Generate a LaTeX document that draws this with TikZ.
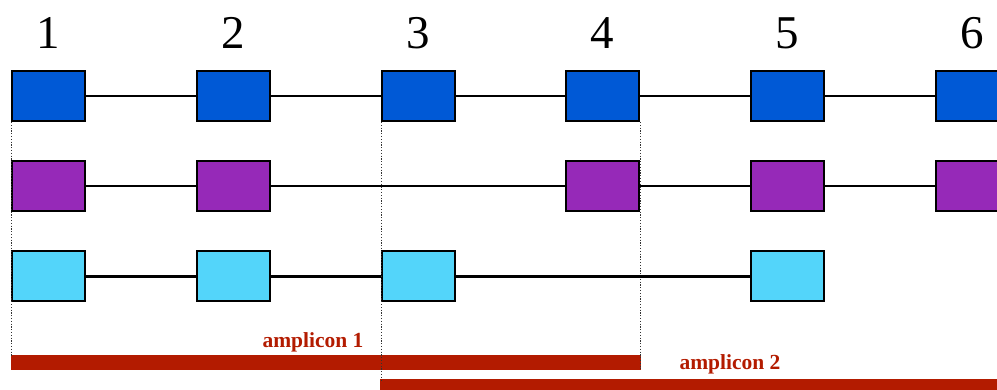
\documentclass[tikz,border=0pt]{standalone}
\usepackage{fontspec}
\setmainfont{Liberation Serif}
\definecolor{cblue}{HTML}{0059D6}
\definecolor{cpurple}{HTML}{9629B8}
\definecolor{ccyan}{HTML}{53D5FA}
\definecolor{cred}{HTML}{B31B00}
\begin{document}
\begin{tikzpicture}[x=1pt,y=-1pt,
  exon/.style={draw=black,line width=2pt,minimum width=73pt,minimum height=50pt,inner sep=0pt},
  link/.style={draw=black,line width=2.8pt},
  guide/.style={draw=black!80,line width=1pt,dash pattern=on 1.2pt off 1.6pt},
  bar/.style={fill=cred,draw=none},
  num/.style={font=\fontsize{47}{47}\selectfont,anchor=base,inner sep=0pt},
  amp/.style={font=\fontsize{21.5}{21.5}\selectfont\bfseries,text=cred,anchor=base,inner sep=0pt}]
\useasboundingbox (0,0) rectangle (997,390);
\clip (0,0) rectangle (997,390);
% numbers
\foreach \i/\x in {1/48.5,2/233.5,3/418.5,4/602.5,5/787.5,6/972.5}
  \node[num] (n\i) at (\x,49) {\i};
% guide end points
\coordinate (g1) at (11,356);
\coordinate (g3) at (381,380);
\coordinate (g4) at (640,369);
% bars
\coordinate (b1s) at (11,355);
\coordinate (b1e) at (641,370);
\coordinate (b2s) at (380,379);
\coordinate (b2e) at (1000,395);
\fill[bar] (b1s) rectangle (b1e);
\fill[bar] (b2s) rectangle (b2e);
% row 1
\foreach \i/\x in {1/48.5,2/233.5,3/418.5,4/602.5,5/787.5,6/972.5}
  \node[exon,fill=cblue] (a\i) at (\x,96) {};
% row 2
\foreach \i/\x in {1/48.5,2/233.5,4/602.5,5/787.5,6/972.5}
  \node[exon,fill=cpurple] (p\i) at (\x,186) {};
% row 3
\foreach \i/\x in {1/48.5,2/233.5,3/418.5,5/787.5}
  \node[exon,fill=ccyan] (c\i) at (\x,276.5) {};
% guides
\draw[guide] (a1.south west) -- (g1);
\draw[guide] (a3.south west) -- (g3);
\draw[guide] (a4.south east) -- (g4);
% links
\draw[link] (a1) -- (a2);
\draw[link] (a2) -- (a3);
\draw[link] (a3) -- (a4);
\draw[link] (a4) -- (a5);
\draw[link] (a5) -- (a6);
\draw[link] (p1) -- (p2);
\draw[link] (p2) -- (p4);
\draw[link] (p4) -- (p5);
\draw[link] (p5) -- (p6);
\draw[link] (c1) -- (c2);
\draw[link] (c2) -- (c3);
\draw[link] (c3) -- (c5);
% labels
\node[amp] (l1) at (313,348) {amplicon 1};
\node[amp] (l2) at (730,370) {amplicon 2};
\end{tikzpicture}
\end{document}
